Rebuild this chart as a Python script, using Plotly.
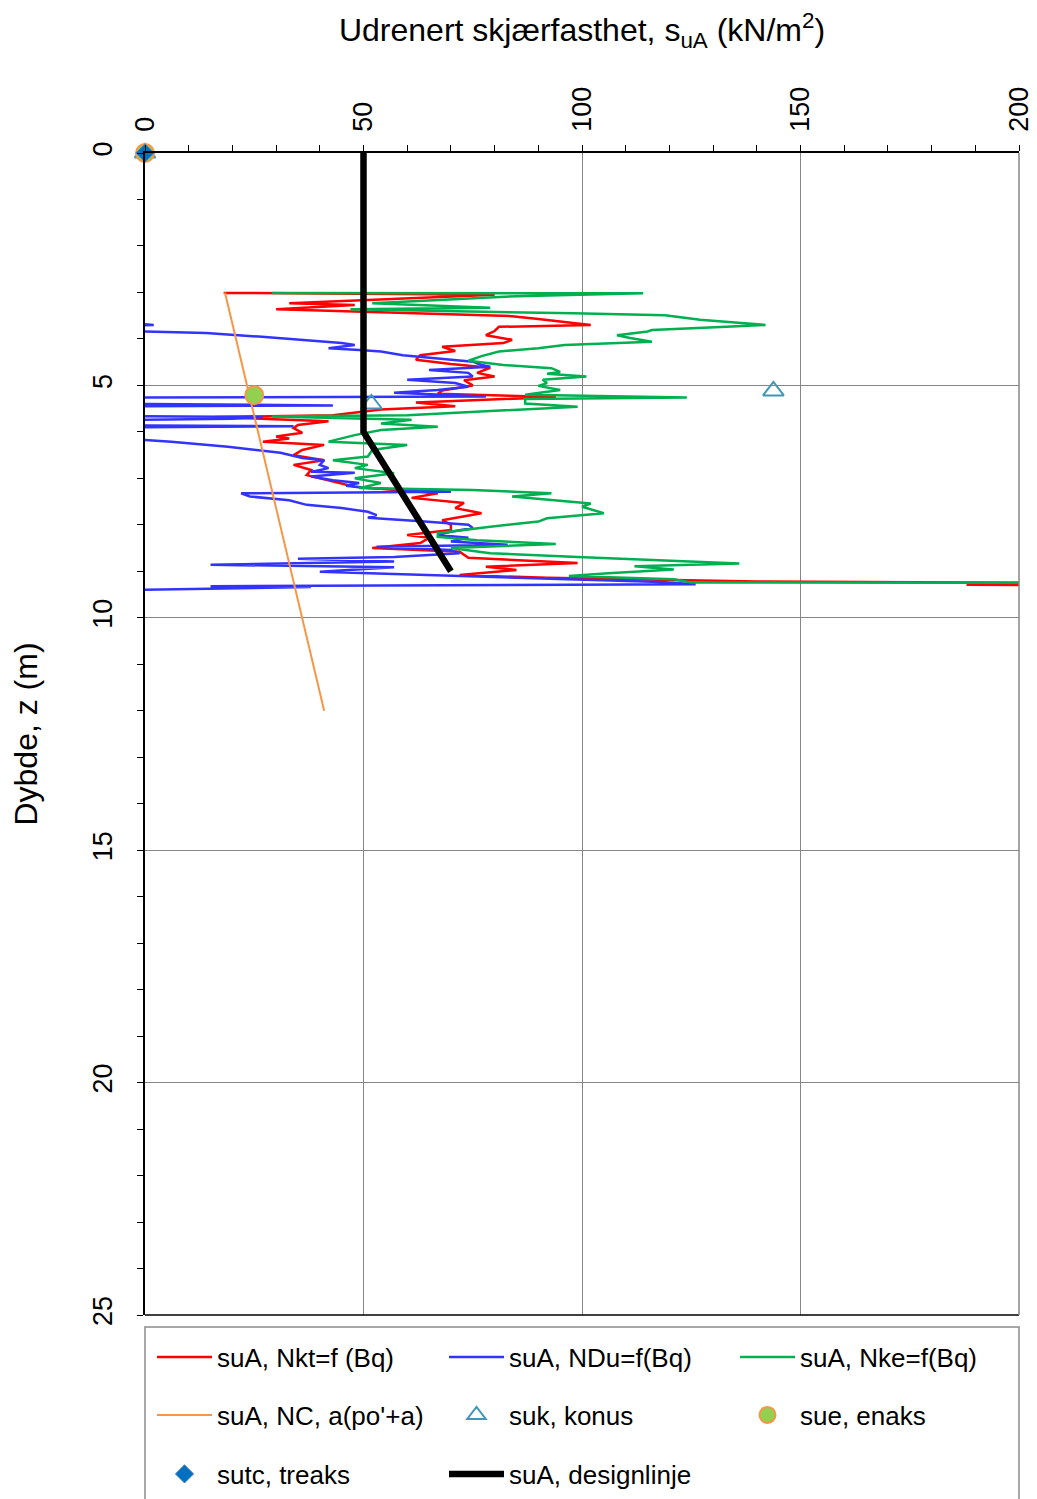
import plotly.graph_objects as go

# ---------------- data ----------------
red_depth = [3.01, 3.05, 3.23, 3.27, 3.36, 3.42, 3.51, 3.57, 3.64, 3.70, 3.74, 3.83, 3.92, 4.02, 4.09,
             4.17, 4.26, 4.35, 4.45, 4.54, 4.62, 4.73, 4.81, 4.89, 5.00, 5.11, 5.18, 5.25, 5.37, 5.45,
             5.52, 5.64, 5.68, 5.77, 5.85, 5.92, 6.02, 6.10, 6.14, 6.21, 6.28, 6.39, 6.50, 6.61, 6.71,
             6.82, 6.93, 7.04, 7.18, 7.32, 7.42, 7.53, 7.64, 7.75, 7.90, 8.00, 8.11, 8.22, 8.28, 8.39,
             8.50, 8.58, 8.71, 8.82, 8.90, 8.97, 9.08, 9.14, 9.22, 9.25, 9.29, 9.31]
red_su = [18, 80, 33, 48, 30, 53, 84, 90, 97, 102, 81, 80, 78, 84, 82,
          68, 71, 63, 62, 70, 79, 76, 80, 73, 75, 68, 67, 94, 62, 71,
          54, 43, 16, 42, 35, 34, 36, 30, 33, 27, 41, 36, 34, 41, 34,
          38, 37, 42, 48, 67, 61, 73, 71, 77, 68, 70, 70, 60, 65, 63,
          52, 72, 74, 99, 78, 85, 72, 92, 140, 205, 188, 230]

blue_depth = [3.66, 3.68, 3.70, 3.72, 3.82, 3.84, 3.87, 3.95, 4.02, 4.09, 4.13, 4.20, 4.24, 4.27, 4.35,
              4.39, 4.49, 4.56, 4.60, 4.67, 4.73, 4.81, 4.88, 4.95, 5.03, 5.10, 5.16, 5.24, 5.26, 5.40,
              5.43, 5.45, 5.66, 5.68, 5.72, 5.74, 5.86, 5.88, 5.90, 6.16, 6.17, 6.21, 6.32, 6.35, 6.45,
              6.56, 6.61, 6.71, 6.78, 6.86, 6.88, 6.96, 7.04, 7.10, 7.16, 7.21, 7.29, 7.32, 7.39, 7.47,
              7.57, 7.64, 7.72, 7.79, 7.85, 7.93, 8.00, 8.07, 8.15, 8.22, 8.28, 8.36, 8.43, 8.47, 8.54,
              8.61, 8.69, 8.73, 8.79, 8.86, 8.91, 9.01, 9.12, 9.23, 9.28, 9.32, 9.34, 9.40]
blue_su = [-3, 0.5, 2, -3, -3, -0.5, 14, 26, 35, 45, 48, 42, 49, 54, 59,
           64, 75, 77, 79, 65, 74, 75, 60, 71, 74, 67, 57, 78, -2, -2,
           43, -2, -2, 27, 20, -2, -2, 34, -2, -2, -0.5, 6, 19, 22, 31,
           36, 41, 40, 42, 38, 48, 38, 43, 49, 46, 51, 70, 22, 24, 33,
           37, 45, 51, 53, 51, 64, 74, 75, 70, 67, 74, 70, 83, 53, 70,
           72, 57, 35, 57, 15, 57, 40, 78, 118, 126, 15, 38, -1]

green_depth = [3.01, 3.02, 3.08, 3.23, 3.33, 3.36, 3.45, 3.49, 3.59, 3.65, 3.70, 3.74, 3.81, 3.84, 3.92,
               3.98, 4.06, 4.13, 4.20, 4.27, 4.37, 4.47, 4.56, 4.63, 4.71, 4.75, 4.81, 4.88, 4.95, 5.01,
               5.10, 5.20, 5.26, 5.29, 5.39, 5.46, 5.57, 5.64, 5.67, 5.74, 5.82, 5.89, 5.96, 6.07, 6.21,
               6.28, 6.39, 6.53, 6.61, 6.71, 6.78, 6.89, 7.00, 7.10, 7.21, 7.25, 7.32, 7.39, 7.54, 7.61,
               7.75, 7.86, 7.93, 8.04, 8.18, 8.26, 8.33, 8.41, 8.50, 8.61, 8.69, 8.83, 8.89, 8.96, 9.04,
               9.10, 9.17, 9.24, 9.25]
green_su = [29, 114, 85, 52, 79, 47, 98, 119, 127, 135, 142, 133, 116, 115, 108,
            111, 116, 96, 90, 81, 77, 74, 82, 93, 95, 92, 101, 91, 92, 90,
            95, 87, 124, 87, 87, 99, 75, 60, 29, 61, 54, 67, 54, 48, 42,
            60, 52, 51, 43, 51, 48, 57, 48, 54, 49, 75, 93, 84, 102, 100,
            105, 92, 90, 79, 67, 67, 76, 94, 70, 79, 99, 136, 112, 121, 106,
            97, 121, 125, 240]

nc_depth = [3.0, 12.0]
nc_su = [18.3, 41.0]

suk_depth = [0.0, 5.12, 5.40]
suk_su = [0.0, 143.8, 51.8]

sue_depth = [0.0, 5.21]
sue_su = [0.0, 25.0]

sutc_depth = [0.0]
sutc_su = [0.0]

design_depth = [0.0, 6.0, 9.0]
design_su = [50.0, 50.0, 70.0]

x_ticks = [0, 50, 100, 150, 200]
y_ticks = [0, 5, 10, 15, 20, 25]

# ---------------- figure ----------------
FONT = "Liberation Sans, Arial, sans-serif"
fig = go.Figure()

fig.add_trace(go.Scatter(x=red_su, y=red_depth, mode="lines", name="suA, Nkt=f (Bq)",
                         line=dict(color="#ff0000", width=2.5), legend="legend"))
fig.add_trace(go.Scatter(x=blue_su, y=blue_depth, mode="lines", name="suA, NDu=f(Bq)",
                         line=dict(color="#3333ff", width=2.5), legend="legend2"))
fig.add_trace(go.Scatter(x=green_su, y=green_depth, mode="lines", name="suA, Nke=f(Bq)",
                         line=dict(color="#00b050", width=2.5), legend="legend3"))
fig.add_trace(go.Scatter(x=nc_su, y=nc_depth, mode="lines", name="suA, NC, a(po'+a)",
                         line=dict(color="#f79646", width=2), legend="legend4"))
fig.add_trace(go.Scatter(x=suk_su, y=suk_depth, mode="markers", name="suk, konus", cliponaxis=False,
                         marker=dict(symbol="triangle-up-open", size=18, color="#4198b5",
                                     line=dict(width=2, color="#4198b5")), legend="legend5"))
fig.add_trace(go.Scatter(x=sue_su, y=sue_depth, mode="markers", name="sue, enaks", cliponaxis=False,
                         marker=dict(symbol="circle", size=18, color="#92d050",
                                     line=dict(width=2, color="#f79646")), legend="legend6"))
fig.add_trace(go.Scatter(x=sutc_su, y=sutc_depth, mode="markers", name="sutc, treaks", cliponaxis=False,
                         marker=dict(symbol="diamond", size=14, color="#0070c0",
                                     line=dict(width=1, color="#4f81bd")), legend="legend7"))
fig.add_trace(go.Scatter(x=design_su, y=design_depth, mode="lines", name="suA, designlinje",
                         line=dict(color="#000000", width=6.5), legend="legend8"))

# page coordinates of plot area (page has an 8px body margin)
OFF = 8
PLOT_L, PLOT_R, PLOT_T, PLOT_B = 145, 1019, 153, 1315
W, H = 1029, 1491
pw = PLOT_R - PLOT_L
ph = PLOT_B - PLOT_T


def py(ypix):
    return (PLOT_B - ypix) / ph


def px(xpix):
    return (xpix - PLOT_L) / pw


def leg(xpage, ypage):
    return dict(orientation="h", font=dict(family=FONT, size=26, color="#000000"),
                bgcolor="rgba(0,0,0,0)", borderwidth=0, itemwidth=55,
                xanchor="left", yanchor="middle", x=px(xpage), y=py(ypage))


cols = [152, 444, 735]
rows = [1357, 1415, 1474]

fig.update_layout(
    width=W, height=H,
    margin=dict(l=PLOT_L - OFF, r=W - (PLOT_R - OFF), t=PLOT_T - OFF, b=H - (PLOT_B - OFF),
                autoexpand=False),
    paper_bgcolor="white", plot_bgcolor="white",
    font=dict(family=FONT, color="#000000"),
    showlegend=True,
    legend=leg(cols[0], rows[0]),
    legend2=leg(cols[1], rows[0]),
    legend3=leg(cols[2], rows[0]),
    legend4=leg(cols[0], rows[1]),
    legend5=leg(cols[1], rows[1]),
    legend6=leg(cols[2], rows[1]),
    legend7=leg(cols[0], rows[2]),
    legend8=leg(cols[1], rows[2]),
    xaxis=dict(
        side="top", range=[0, 200], tickvals=x_ticks, tickangle=-90,
        tickfont=dict(family=FONT, size=27, color="#000000"),
        showgrid=True, gridcolor="#868686", gridwidth=1,
        showline=True, linecolor="#000000", linewidth=1.5,
        ticks="outside", ticklen=6, tickcolor="#000000",
        minor=dict(dtick=10, ticks="outside", ticklen=6, tickcolor="#000000", showgrid=False),
        zeroline=False, ticklabelstandoff=8,
        title=dict(text="Udrenert skjærfasthet, s<sub>uA</sub> (kN/m<sup>2</sup>)",
                   font=dict(family=FONT, size=32, color="#000000"), standoff=40),
    ),
    yaxis=dict(
        range=[25, 0], tickvals=y_ticks, tickangle=-90,
        tickfont=dict(family=FONT, size=27, color="#000000"),
        showgrid=True, gridcolor="#868686", gridwidth=1,
        showline=True, linecolor="#000000", linewidth=1.5,
        ticks="outside", ticklen=6, tickcolor="#000000",
        minor=dict(dtick=1, ticks="outside", ticklen=6, tickcolor="#000000", showgrid=False),
        zeroline=False, ticklabelstandoff=14,
        title=dict(text="Dybde, z (m)", font=dict(family=FONT, size=32, color="#000000"),
                   standoff=44),
    ),
    shapes=[
        dict(type="rect", xref="paper", yref="paper", x0=0, x1=1, y0=py(1327), y1=py(1530),
             line=dict(color="#8c8c8c", width=1.5), fillcolor="rgba(0,0,0,0)", layer="above"),
        dict(type="line", xref="paper", yref="paper", x0=0, x1=1, y0=0, y1=0,
             line=dict(color="#000000", width=1.5)),
        dict(type="line", xref="paper", yref="paper", x0=1, x1=1, y0=0, y1=1,
             line=dict(color="#868686", width=1.5)),
    ],
)

fig.write_html("out.html")
